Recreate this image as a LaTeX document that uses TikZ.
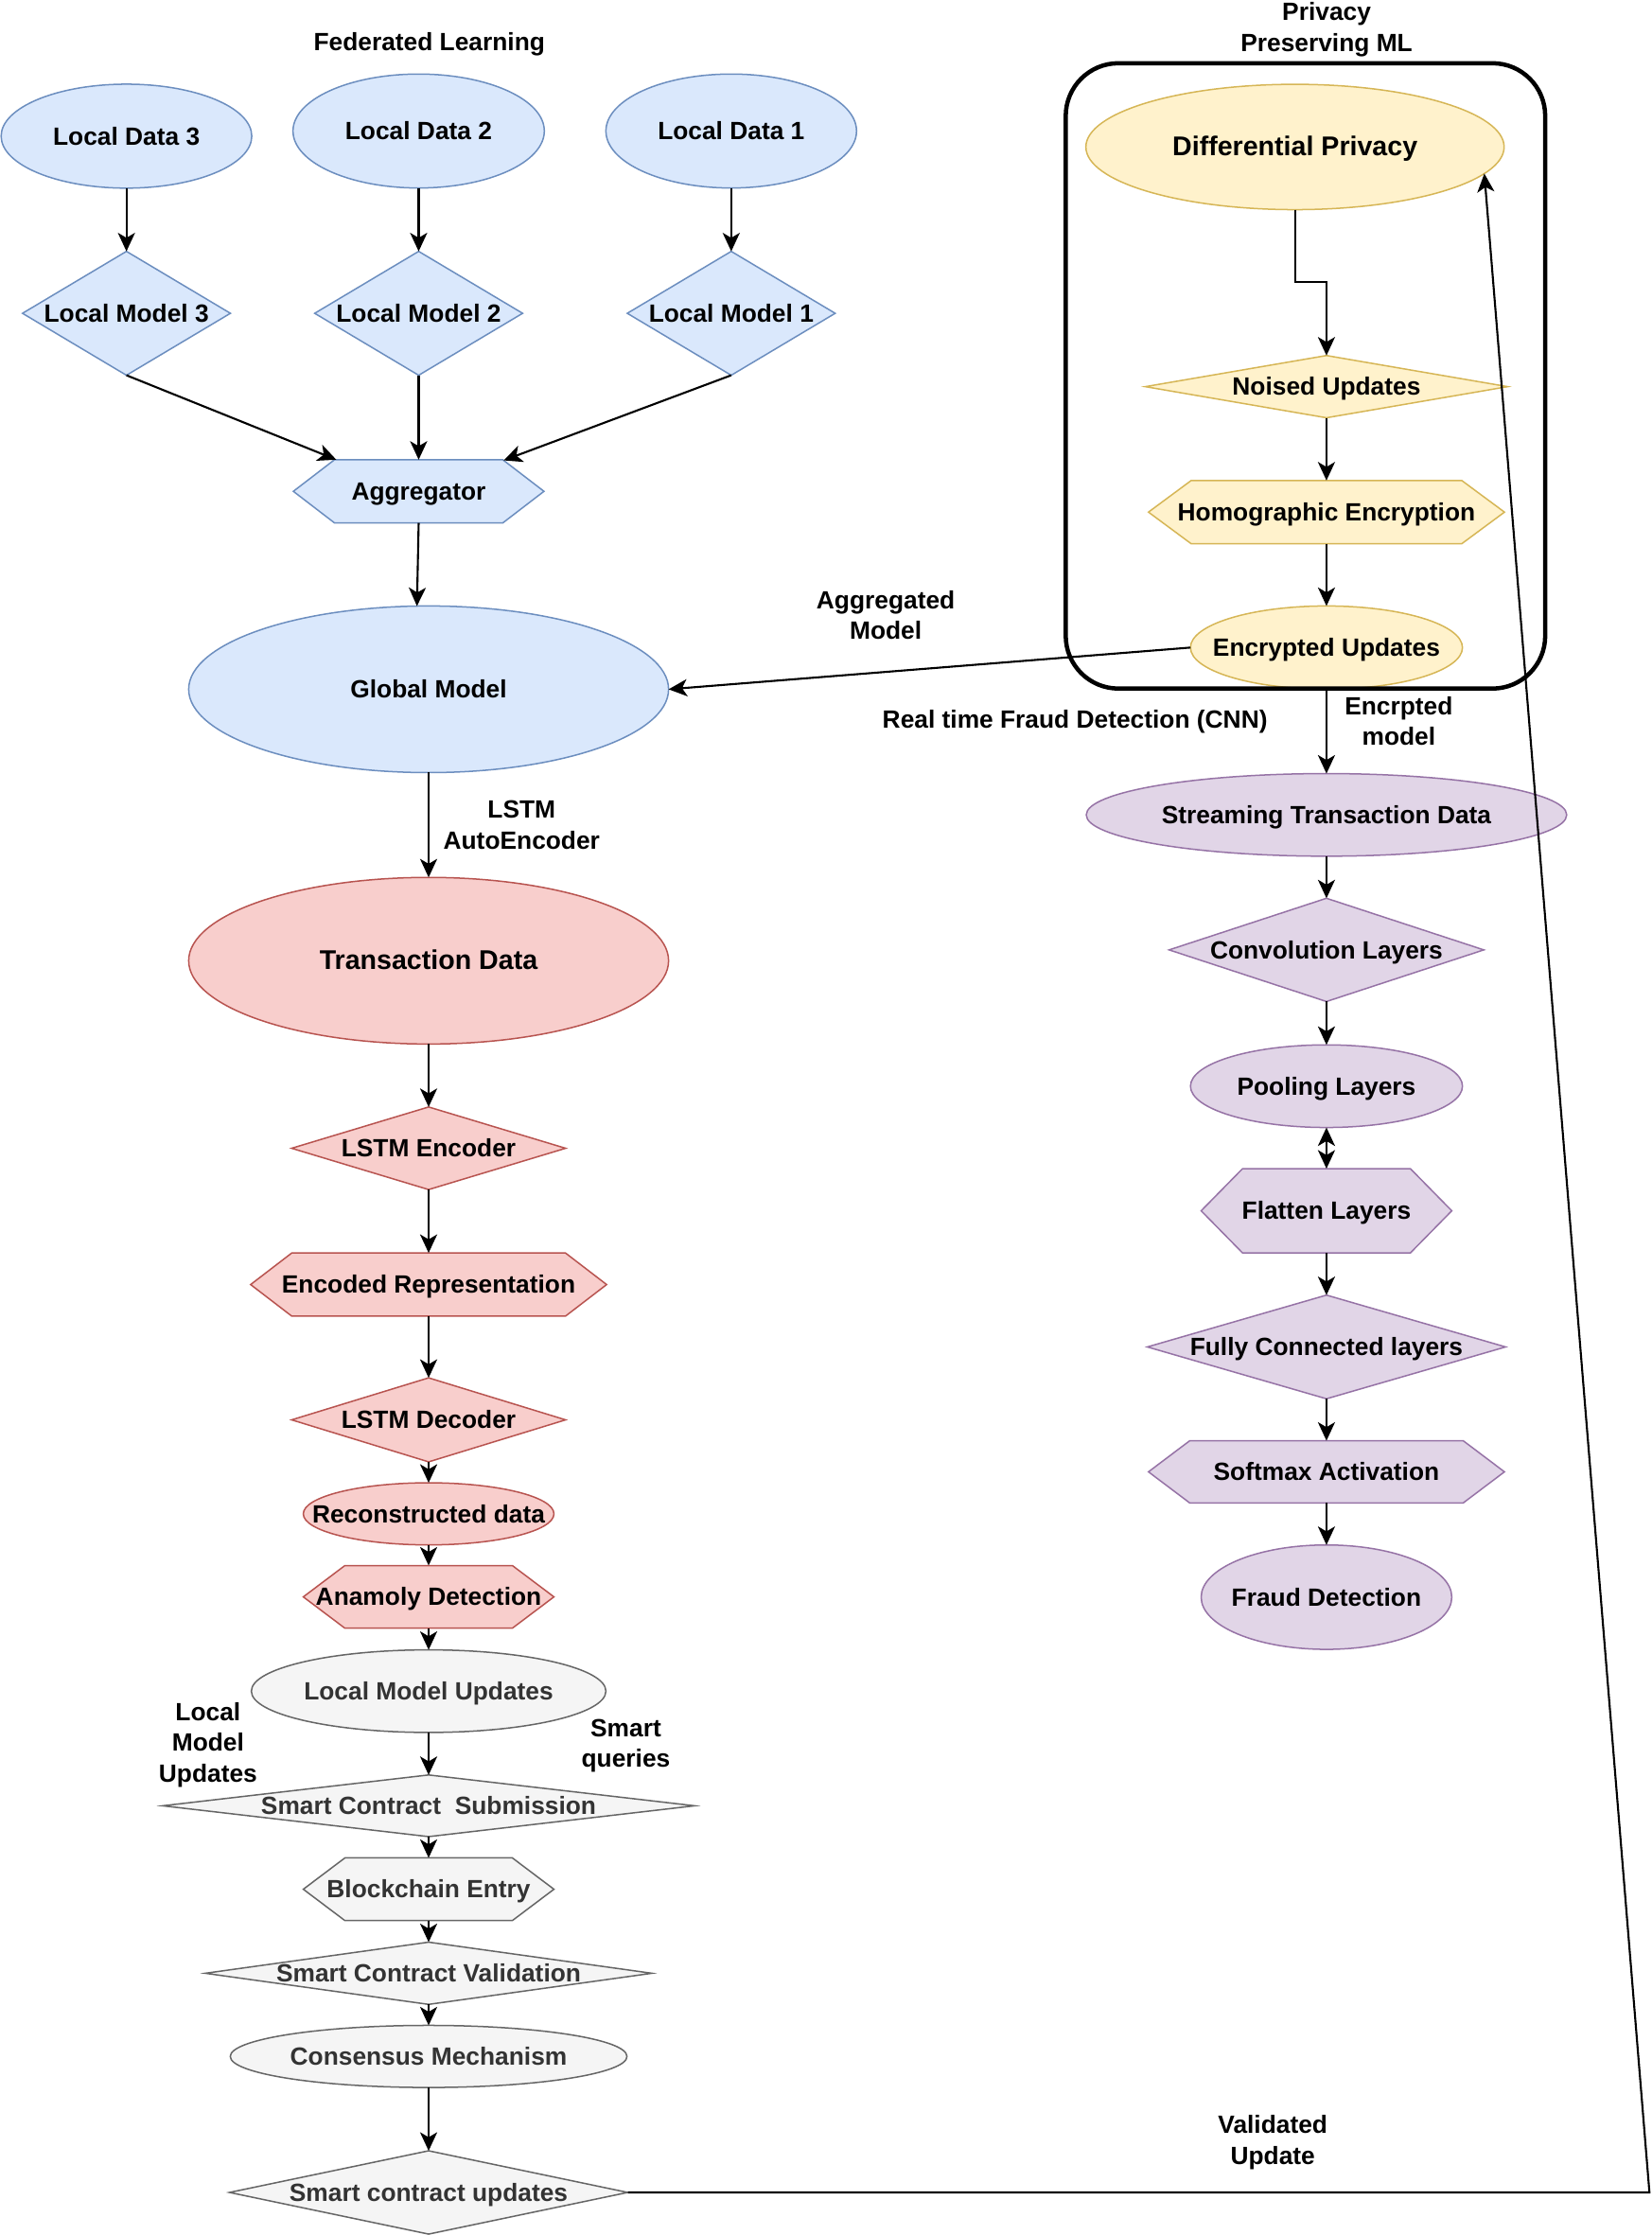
\documentclass[tikz,border=0pt]{standalone}
\usepackage{fontspec}
\setmainfont{Liberation Sans}
\usetikzlibrary{shapes.geometric,shapes.symbols,arrows.meta}
\definecolor{fedfill}{HTML}{DAE8FC}
\definecolor{fedline}{HTML}{6C8EBF}
\definecolor{aefill}{HTML}{F8CECC}
\definecolor{aeline}{HTML}{B85450}
\definecolor{ppfill}{HTML}{FFF2CC}
\definecolor{ppline}{HTML}{D6B656}
\definecolor{cnnfill}{HTML}{E1D5E7}
\definecolor{cnnline}{HTML}{9673A6}
\definecolor{chainfill}{HTML}{F5F5F5}
\definecolor{chainline}{HTML}{666666}
\definecolor{chaintext}{HTML}{333333}

\begin{document}
\begin{tikzpicture}
[every node/.style={inner sep=0pt, outer sep=0pt, text depth=0pt, font=\fontsize{17.5}{21.5}\selectfont\bfseries},
 snug/.style={line width=1pt, text height=12.2pt, execute at begin node={\hbox to 0pt\bgroup\hss}, execute at end node={\hss\egroup}},
 fednode/.style={snug, fill=fedfill, draw=fedline},
 aenode/.style={snug, fill=aefill, draw=aeline},
 ppnode/.style={snug, fill=ppfill, draw=ppline},
 cnnnode/.style={snug, fill=cnnfill, draw=cnnline},
 chainnode/.style={snug, fill=chainfill, draw=chainline, text=chaintext},
 oval/.style={ellipse},
 dia/.style={diamond, aspect=1},
 hexa/.style={signal, signal to=east and west, signal pointer angle=#1},
 hexa/.default=75,
 flowtip/.tip={Stealth[length=13pt, width=12pt, inset=3.5pt]},
 flow/.style={line width=1.4pt, -{flowtip}}]
\useasboundingbox (0pt, 0pt) rectangle (1160.1pt, -1569.4pt);
% federated learning
\node (fltitle) at (301.5pt, -28.9pt) {Federated Learning};
\node (ld3) [fednode, oval, minimum width=176pt, minimum height=73pt] at (88.8pt, -95.6pt) {Local Data 3};
\node (ld2) [fednode, oval, minimum width=176.5pt, minimum height=80pt] at (294pt, -92pt) {Local Data 2};
\node (ld1) [fednode, oval, minimum width=176pt, minimum height=80pt] at (513.5pt, -92pt) {Local Data 1};
\node (lm3) [fednode, dia, minimum width=146pt, minimum height=87pt] at (88.8pt, -220pt) {Local Model 3};
\node (lm2) [fednode, dia, minimum width=146pt, minimum height=87pt] at (294pt, -220pt) {Local Model 2};
\node (lm1) [fednode, dia, minimum width=146pt, minimum height=87pt] at (513.5pt, -220pt) {Local Model 1};
\node (agg) [fednode, hexa, minimum width=176pt, minimum height=44.4pt] at (294pt, -345pt) {Aggregator};
\node (gm) [fednode, oval, minimum width=337pt, minimum height=117pt] at (301pt, -484pt) {Global Model};
\node (aggmodel) [align=center] at (622pt, -432pt) {Aggregated\\Model};
% lstm autoencoder
\node (lstmae) [align=center] at (366.3pt, -579.2pt) {LSTM\\AutoEncoder};
\node (td) [aenode, oval, minimum width=337pt, minimum height=117pt, font=\fontsize{19}{23}\selectfont\bfseries] at (301pt, -674.6pt) {Transaction Data};
\node (lenc) [aenode, dia, minimum width=192.4pt, minimum height=58pt] at (301pt, -806.3pt) {LSTM Encoder};
\node (erep) [aenode, hexa, minimum width=250pt, minimum height=44.4pt] at (301pt, -902pt) {Encoded Representation};
\node (ldec) [aenode, dia, minimum width=192.4pt, minimum height=59pt] at (301pt, -997pt) {LSTM Decoder};
\node (recon) [aenode, oval, minimum width=176pt, minimum height=43.6pt] at (301pt, -1063pt) {Reconstructed data};
\node (anom) [aenode, hexa=74, minimum width=176pt, minimum height=44pt] at (301pt, -1121.3pt) {Anamoly Detection};
% blockchain
\node (lmu) [chainnode, oval, minimum width=249pt, minimum height=58pt] at (301pt, -1187.5pt) {Local Model Updates};
\node (lmulabel) [align=center] at (146.1pt, -1223.5pt) {Local\\Model\\Updates};
\node (sqlabel) [align=center] at (439.5pt, -1224.1pt) {Smart\\queries};
\node (scs) [chainnode, dia, minimum width=373.6pt, minimum height=43.3pt] at (301pt, -1268pt) {Smart Contract\ \ Submission};
\node (be) [chainnode, hexa=74, minimum width=176pt, minimum height=44pt] at (301pt, -1326.6pt) {Blockchain Entry};
\node (scv) [chainnode, dia, minimum width=313.7pt, minimum height=43.7pt] at (301pt, -1385.6pt) {Smart Contract Validation};
\node (cm) [chainnode, oval, minimum width=278.6pt, minimum height=43.6pt] at (301pt, -1444pt) {Consensus Mechanism};
\node (scu) [chainnode, dia, minimum width=279.7pt, minimum height=58.5pt] at (301pt, -1539.5pt) {Smart contract updates};
\node (vulabel) [align=center] at (893.8pt, -1502.5pt) {Validated\\Update};
% privacy preserving ml
\node (pptitle) [align=center] at (931.6pt, -18.85pt) {Privacy\\Preserving ML};
\node (dp) [ppnode, oval, minimum width=293.7pt, minimum height=88pt, font=\fontsize{19}{23}\selectfont\bfseries] at (909.4pt, -103.2pt) {Differential Privacy};
\node (nu) [ppnode, dia, minimum width=254.5pt, minimum height=43.7pt] at (931.5pt, -271.5pt) {Noised Updates};
\node (he) [ppnode, hexa=73, minimum width=250pt, minimum height=44.4pt] at (931.5pt, -359.6pt) {Homographic Encryption};
\node (eu) [ppnode, oval, minimum width=191pt, minimum height=58.4pt] at (931.5pt, -454.7pt) {Encrypted Updates};
\node (ppml) [rectangle, rounded corners=37pt, draw=black, line width=3pt, minimum width=336.7pt, minimum height=439.1pt] at (916.75pt, -263.95pt) {};
% cnn
\node (cnntitle) at (754.9pt, -505pt) {Real time Fraud Detection (CNN)};
\node (encm) [align=center] at (982.3pt, -506.1pt) {Encrpted\\model};
\node (std) [cnnnode, oval, minimum width=337.4pt, minimum height=58pt] at (931.5pt, -572.2pt) {Streaming Transaction Data};
\node (conv) [cnnnode, dia, minimum width=221pt, minimum height=72.5pt] at (931.5pt, -667pt) {Convolution Layers};
\node (pool) [cnnnode, oval, minimum width=191pt, minimum height=58pt] at (931.5pt, -762.7pt) {Pooling Layers};
\node (flat) [cnnnode, hexa=91, minimum width=176pt, minimum height=59.2pt] at (931.5pt, -850.2pt) {Flatten Layers};
\node (fc) [cnnnode, dia, minimum width=251.6pt, minimum height=72.8pt] at (931.5pt, -945.8pt) {Fully Connected layers};
\node (soft) [cnnnode, hexa=74, minimum width=250pt, minimum height=43.7pt] at (931.5pt, -1033.5pt) {Softmax Activation};
\node (fd) [cnnnode, oval, minimum width=176pt, minimum height=73.3pt] at (931.5pt, -1121.5pt) {Fraud Detection};
\coordinate (fbturn) at (1158.3pt, -1539.5pt);
% connectors
\draw [flow] (ld3) to (lm3);
\draw [flow] (ld2) to (lm2);
\draw [flow] (ld1) to (lm1);
\draw [flow] (lm3.south) to (agg.159.4);
\draw [flow] (lm2) to (agg);
\draw [flow] (lm1.south) to (agg.20.6);
\draw [flow] (agg.south) to (gm.98);
\draw [flow] (eu.west) to (gm.east);
\draw [flow] (gm) to (td);
\draw [flow] (td) to (lenc);
\draw [flow] (lenc) to (erep);
\draw [flow] (erep) to (ldec);
\draw [flow] (ldec) to (recon);
\draw [flow] (recon) to (anom);
\draw [flow] (anom) to (lmu);
\draw [flow] (lmu) to (scs);
\draw [flow] (scs) to (be);
\draw [flow] (be) to (scv);
\draw [flow] (scv) to (cm);
\draw [flow] (cm) to (scu);
\draw [flow] (dp.south) -- ++(0pt, -50.7pt) -| (nu.north);
\draw [flow] (nu) to (he);
\draw [flow] (he) to (eu);
\draw [flow] (eu) to (std);
\draw [flow] (std) to (conv);
\draw [flow] (conv) to (pool);
\draw [flow, {flowtip}-{flowtip}] (pool) to (flat);
\draw [flow] (flat) to (fc);
\draw [flow] (fc) to (soft);
\draw [flow] (soft) to (fd);
\draw [flow] (scu.east) -- (fbturn) -- (dp.-8.1);
\end{tikzpicture}
\end{document}
